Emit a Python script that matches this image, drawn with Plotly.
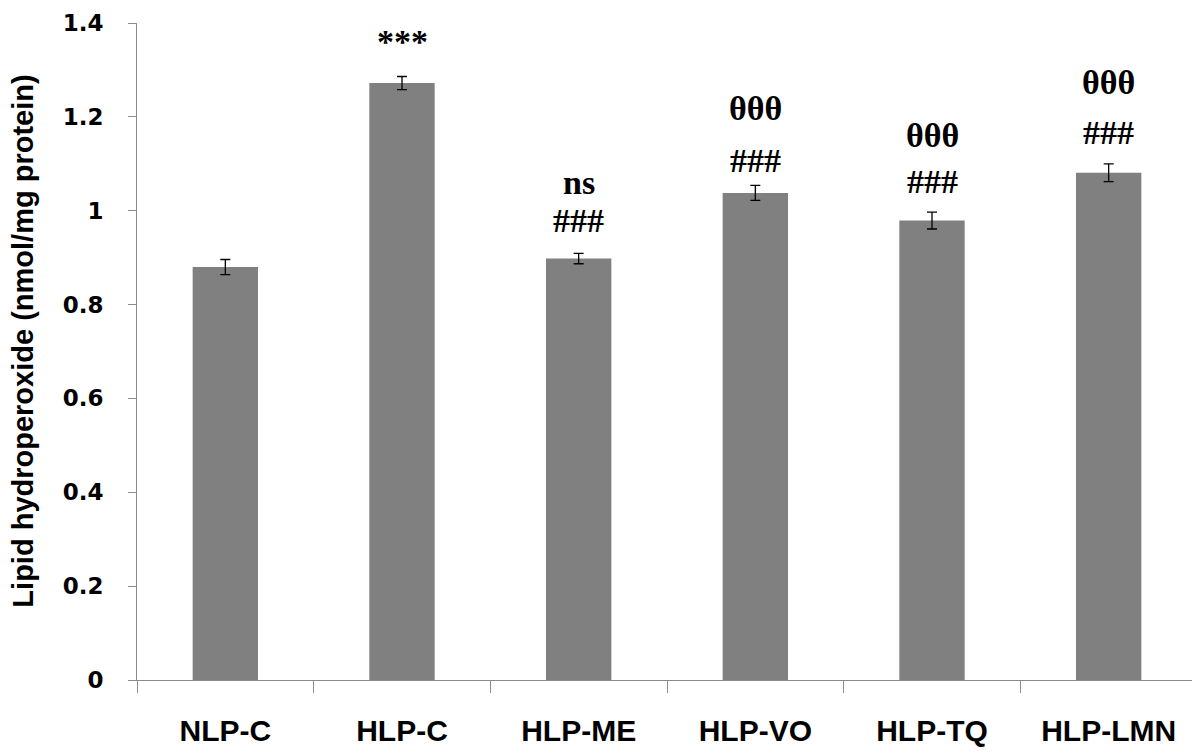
import plotly.graph_objects as go

categories = ["NLP-C", "HLP-C", "HLP-ME", "HLP-VO", "HLP-TQ", "HLP-LMN"]
values = [0.88, 1.272, 0.898, 1.038, 0.979, 1.081]
errors = [0.016, 0.014, 0.011, 0.016, 0.018, 0.019]
ytick_vals = [0, 0.2, 0.4, 0.6, 0.8, 1.0, 1.2, 1.4]
ytick_text = ["0", "0.2", "0.4", "0.6", "0.8", "1", "1.2", "1.4"]
y_title = "Lipid hydroperoxide (nmol/mg protein)"

# significance marks: (category, text, y value)
sig_marks = [
    ("HLP-C", "***", 1.36),
    ("HLP-ME", "ns", 1.06),
    ("HLP-ME", "###", 0.98),
    ("HLP-VO", "θθθ", 1.218),
    ("HLP-VO", "###", 1.108),
    ("HLP-TQ", "θθθ", 1.161),
    ("HLP-TQ", "###", 1.062),
    ("HLP-LMN", "θθθ", 1.273),
    ("HLP-LMN", "###", 1.166),
]

# page has an 8px body margin; figure coordinates are offset accordingly
W, H = 1200, 756
L, R, T, B = 129, 11, 15, 84

fig = go.Figure()
fig.add_trace(go.Bar(
    x=categories, y=values,
    marker=dict(color="#808080", line=dict(width=0)),
    width=0.37,
    error_y=dict(type="data", array=errors, visible=True, color="black",
                 thickness=1.3, width=5),
))

for cat, txt, yv in sig_marks:
    fig.add_annotation(x=cat, y=yv, text=txt, showarrow=False,
                       font=dict(family="Liberation Serif, Times New Roman, serif",
                                 size=34, color="black", weight="bold"),
                       xanchor="center", yanchor="middle")

fig.add_annotation(
    xref="paper", yref="paper",
    x=(15 - L) / (W - L - R), y=0.515,
    text=y_title, textangle=-90, showarrow=False,
    xanchor="center", yanchor="middle",
    font=dict(family="Liberation Sans, Arial, sans-serif", size=29,
              color="black", weight="bold"),
)

fig.update_layout(
    width=W, height=H,
    paper_bgcolor="white", plot_bgcolor="white",
    margin=dict(l=L, r=R, t=T, b=B, autoexpand=False),
    showlegend=False,
)
fig.update_xaxes(
    type="category", automargin=False,
    showline=True, linecolor="#8c8c8c", linewidth=1,
    ticks="outside", tickson="boundaries", ticklen=12, tickcolor="#8c8c8c",
    showgrid=False,
    tickfont=dict(family="Liberation Sans, Arial, sans-serif",
                  size=30, color="black", weight="bold"),
    ticklabelstandoff=24,
)
fig.update_yaxes(
    range=[0, 1.4], automargin=False,
    tickvals=ytick_vals, ticktext=ytick_text,
    showline=True, linecolor="#8c8c8c", linewidth=1,
    ticks="outside", ticklen=8, tickcolor="#8c8c8c",
    showgrid=False, zeroline=False,
    tickfont=dict(family="DejaVu Sans, Verdana, sans-serif", size=23, color="black",
                  weight="bold"),
    ticklabelstandoff=20,
    ticklabeloverflow="allow",
)

fig.write_html("out.html")
